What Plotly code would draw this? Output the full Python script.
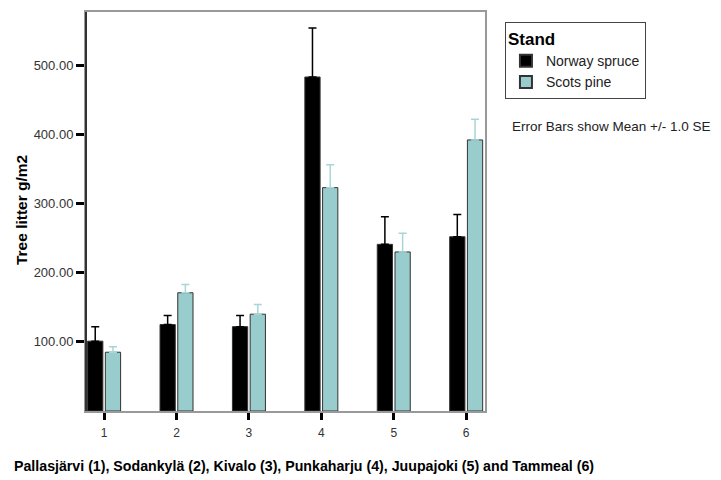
import plotly.graph_objects as go

sites = [1, 2, 3, 4, 5, 6]
site_labels = ["1", "2", "3", "4", "5", "6"]
norway = [101, 125, 122, 483, 241, 252]
norway_se = [21, 13, 16, 71, 40, 32]
scots = [85, 171, 140, 323, 230, 392]
scots_se = [8, 12, 14, 33, 27, 30]
y_ticks = [100, 200, 300, 400, 500]

fig = go.Figure()
fig.add_trace(go.Bar(
    x=sites, y=norway, name="Norway spruce",
    marker=dict(color="#000000", line=dict(color="#333333", width=1)),
    error_y=dict(type="data", symmetric=False, array=norway_se,
                 arrayminus=[0] * len(norway_se), color="#000000",
                 thickness=1.5, width=4),
))
fig.add_trace(go.Bar(
    x=sites, y=scots, name="Scots pine",
    marker=dict(color="#99CCCC", line=dict(color="#333333", width=1)),
    error_y=dict(type="data", symmetric=False, array=scots_se,
                 arrayminus=[0] * len(scots_se), color="#A8D6D6",
                 thickness=1.5, width=4),
))

fig.update_layout(
    width=721, height=480,
    margin=dict(l=78, r=244, t=4, b=77, autoexpand=False),
    paper_bgcolor="white", plot_bgcolor="white",
    barmode="group", bargap=0.51, bargroupgap=0.14,
    font=dict(family="Arial, Liberation Sans, sans-serif", color="#222222", size=12),
    showlegend=True,
    legend=dict(
        title=dict(text="<b>Stand</b>", font=dict(size=17, color="#000000")),
        x=1.05, y=0.975, xanchor="left", yanchor="top",
        bordercolor="#444444", borderwidth=1, bgcolor="white",
        font=dict(size=14, color="#222222"),
        tracegroupgap=0, itemsizing="constant",
    ),
    xaxis=dict(
        range=[0.75, 6.26], tickvals=sites, ticktext=site_labels,
        showgrid=False, zeroline=False,
        showline=True, linecolor="#999999", linewidth=2, mirror=True,
        ticks="outside", ticklen=7, tickwidth=3, tickcolor="#000000",
        tickfont=dict(size=12, color="#333333"), ticklabelstandoff=3,
    ),
    yaxis=dict(
        range=[0, 577], tickvals=y_ticks, tickformat=".2f",
        showgrid=False, zeroline=False,
        showline=True, linecolor="#999999", linewidth=2, mirror=True,
        ticks="outside", ticklen=8, tickwidth=3, tickcolor="#000000",
        tickfont=dict(size=13, color="#333333"),
    ),
    annotations=[
        dict(text="<b>Tree litter g/m2</b>", textangle=-90, xref="paper", yref="paper",
             x=-0.16, y=0.504, xanchor="center", yanchor="middle", showarrow=False,
             font=dict(size=15.5, color="#000000")),
        dict(text="Error Bars show Mean +/- 1.0 SE", xref="paper", yref="paper",
             x=1.063, y=0.714, xanchor="left", yanchor="middle", showarrow=False,
             font=dict(size=13.5, color="#222222")),
        dict(text="<b>Pallasjärvi (1), Sodankylä (2), Kivalo (3), Punkaharju (4), Juupajoki (5) and Tammeal (6)</b>",
             xref="paper", yref="paper", x=-0.185, y=-0.138, xanchor="left", yanchor="middle",
             showarrow=False,
             font=dict(family="Arial, Liberation Sans, sans-serif", size=14.2, color="#000000")),
    ],
    shapes=[
        dict(type="line", xref="paper", yref="paper", x0=0, x1=0, y0=0, y1=1,
             line=dict(color="#333333", width=2)),
    ],
)

fig.write_html("out.html")
